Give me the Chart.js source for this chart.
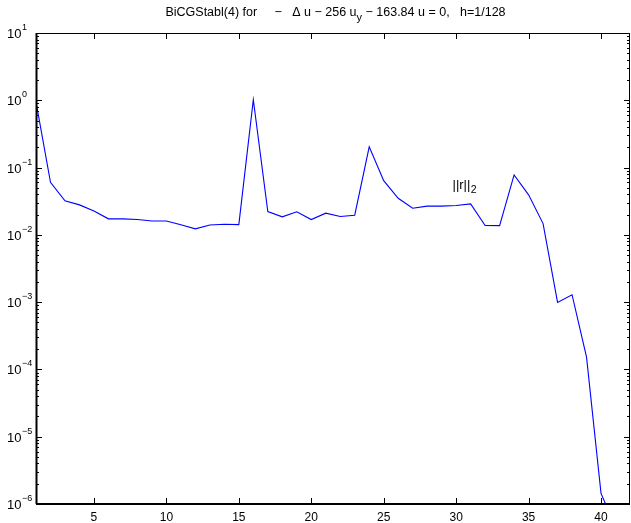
<!DOCTYPE html>
<html>
<head>
<meta charset="utf-8">
<script src="https://cdn.jsdelivr.net/npm/chart.js@4.4.1/dist/chart.umd.min.js"></script>
<style>
  html, body { margin: 0; padding: 0; background: #fff; }
  #wrap { width: 631px; height: 523px; }
</style>
</head>
<body>
<div id="wrap"><canvas id="chart" width="631" height="523"></canvas></div>
<script>
// ---- data ----
const iterations = [
  1, 2, 3, 4, 5, 6, 7, 8, 9, 10,
  11, 12, 13, 14, 15, 16, 17, 18, 19, 20,
  21, 22, 23, 24, 25, 26, 27, 28, 29, 30,
  31, 32, 33, 34, 35, 36, 37, 38, 39, 40, 41,
];
const residuals = [
  0.95, 0.0605, 0.032, 0.0279, 0.0227, 0.0173, 0.0173, 0.0169, 0.0161, 0.0161,
  0.0141, 0.0123, 0.014, 0.0144, 0.0142, 1.02, 0.0222, 0.0185, 0.022, 0.0169,
  0.021, 0.0187, 0.0196, 0.203, 0.064, 0.035, 0.0249, 0.0267, 0.0267, 0.0273,
  0.0288, 0.0138, 0.0137, 0.0778, 0.0393, 0.0147, 0.00099, 0.00129, 0.000152,
  1.44e-6, 4.5e-7,
];
const xTicks = [5, 10, 15, 20, 25, 30, 35, 40];
const yExponents = [-6, -5, -4, -3, -2, -1, 0, 1];
const seriesLabel = { text: "||r||", sub: "2", x: 29.75, y: 0.056 };

const FONT = "Liberation Sans, Arial, Helvetica, sans-serif";

// ---- axes, ticks, labels drawn on the library scales ----
const framePlugin = {
  id: "frame",
  afterDatasetsDraw(chart) {
    const ctx = chart.ctx;
    const xs = chart.scales.x;
    const ys = chart.scales.y;
    const a = chart.chartArea;
    ctx.save();
    ctx.strokeStyle = "#000";
    ctx.fillStyle = "#000";

    // frame
    ctx.lineWidth = 1;
    ctx.strokeRect(a.left + 0.5, a.top + 0.5, a.right - a.left - 1, a.bottom - a.top - 1);
    ctx.lineWidth = 2;
    ctx.beginPath();
    ctx.moveTo(a.left, a.bottom);
    ctx.lineTo(a.right, a.bottom);
    ctx.moveTo(a.left + 0.5, a.top);
    ctx.lineTo(a.left + 0.5, a.bottom);
    ctx.stroke();

    // x ticks
    ctx.lineWidth = 1;
    ctx.beginPath();
    for (const t of xTicks) {
      const px = Math.round(xs.getPixelForValue(t)) + 0.5;
      ctx.moveTo(px, a.bottom);
      ctx.lineTo(px, a.bottom - 6);
      ctx.moveTo(px, a.top);
      ctx.lineTo(px, a.top + 6);
    }
    // y ticks, major and minor
    for (const e of yExponents) {
      for (let m = 1; m <= 9; m++) {
        const v = m * Math.pow(10, e);
        if (v > 10 || v < 1e-6) continue;
        const py = Math.round(ys.getPixelForValue(v)) + 0.5;
        const len = m === 1 ? 6 : 3;
        ctx.moveTo(a.left, py);
        ctx.lineTo(a.left + len, py);
        ctx.moveTo(a.right, py);
        ctx.lineTo(a.right - len, py);
      }
    }
    ctx.stroke();

    // x labels
    ctx.font = "12px " + FONT;
    ctx.textAlign = "center";
    ctx.textBaseline = "alphabetic";
    for (const t of xTicks) {
      ctx.fillText(String(t), xs.getPixelForValue(t), a.bottom + 17);
    }

    // y labels 10^n, left aligned
    ctx.textAlign = "left";
    for (const e of yExponents) {
      const py = ys.getPixelForValue(Math.pow(10, e));
      const exp = e < 0 ? "\u2212" + Math.abs(e) : String(e);
      ctx.font = "13px " + FONT;
      ctx.fillText("10", 7, py + 5);
      const bw = ctx.measureText("10").width;
      ctx.font = "9px " + FONT;
      ctx.fillText(exp, 7 + bw + 0.5, py - 3);
    }

    // series label
    const lx = xs.getPixelForValue(seriesLabel.x);
    const ly = ys.getPixelForValue(seriesLabel.y);
    ctx.font = "13px " + FONT;
    ctx.fillText(seriesLabel.text, lx, ly + 4);
    const tw = ctx.measureText(seriesLabel.text).width;
    ctx.font = "10.5px " + FONT;
    ctx.fillText(seriesLabel.sub, lx + tw + 0.5, ly + 8.5);

    // title with subscript
    const parts = [
      ["BiCGStabl(4) for     \u2212   \u0394 u \u2212 256 u", 12.5, 0],
      ["y", 11, 5],
      [" \u2212 163.84 u = 0,   h=1/128", 12.5, 0],
    ];
    let total = 0;
    for (const p of parts) {
      ctx.font = p[1] + "px " + FONT;
      total += ctx.measureText(p[0]).width;
    }
    let tx = 335.5 - total / 2;
    for (const p of parts) {
      ctx.font = p[1] + "px " + FONT;
      ctx.fillText(p[0], tx, 16 + p[2]);
      tx += ctx.measureText(p[0]).width;
    }
    ctx.restore();
  },
};

function init() {
  const ctx = document.getElementById("chart").getContext("2d");
  new Chart(ctx, {
    type: "line",
    data: {
      datasets: [
        {
          data: iterations.map((x, i) => ({ x, y: residuals[i] })),
          borderColor: "#0000ff",
          borderWidth: 1.1,
          pointRadius: 0,
          tension: 0,
          fill: false,
        },
      ],
    },
    options: {
      responsive: false,
      animation: false,
      devicePixelRatio: 1,
      layout: { padding: { left: 36, right: 1, top: 33, bottom: 19 } },
      plugins: {
        legend: { display: false },
        tooltip: { enabled: false },
        title: { display: false },
      },
      scales: {
        x: { type: "linear", min: 1, max: 42, display: false },
        y: { type: "logarithmic", min: 1e-6, max: 10, display: false },
      },
    },
    plugins: [framePlugin],
  });
}

document.addEventListener("DOMContentLoaded", init);
</script>
</body>
</html>
